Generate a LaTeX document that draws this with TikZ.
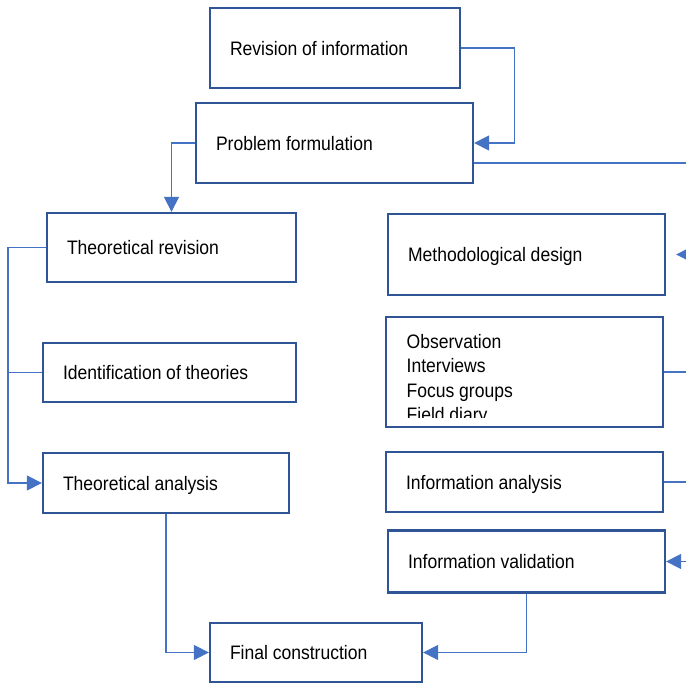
\documentclass[tikz,border=0pt]{standalone}
\usepackage{fontspec}
\setmainfont[FakeStretch=0.9,WordSpace=0.97]{Liberation Sans}
\usetikzlibrary{arrows.meta,calc}
\definecolor{boxblue}{HTML}{2F5597}
\definecolor{lineblue}{HTML}{4472C4}
\begin{document}
\begin{tikzpicture}[x=1pt,y=1pt,
  box/.style={draw=boxblue, line width=2.3pt, inner xsep=20pt, inner ysep=0pt,
    align=flush left, text height=15pt, text depth=0pt, font=\fontsize{19.5}{24}\selectfont},
  conn/.style={draw=lineblue, line width=1.3pt},
  arr/.style={conn, -{Triangle[length=15pt,width=15pt]}}]
\useasboundingbox (0,0) rectangle (686,683);
\clip (0,0) rectangle (686,683);
% boxes
\node[box, text width=210pt, minimum height=80pt] (rev)   at (335,635)   {Revision of information};
\node[box, text width=237pt, minimum height=80pt] (prob)  at (334.5,540) {Problem formulation};
\node[box, text width=209pt, minimum height=69pt] (trev)  at (171.5,435.5) {Theoretical revision};
\node[box, text width=213pt, minimum height=59pt] (iden)  at (169.5,310.5) {Identification of theories};
\node[box, text width=206pt, minimum height=60pt] (tana)  at (166,200)   {Theoretical analysis};
\node[box, text width=172pt, minimum height=59pt] (fin)   at (316,30.5)  {Final construction};
\node[box, text width=237pt, minimum height=81pt] (meth)  at (526.5,428.5) {Methodological design};
\node[box, text width=237pt, minimum height=110pt] (obs)  at (524.5,311) {};
\node[box, text width=237pt, minimum height=60pt] (ianal) at (524.5,201) {Information analysis};
\node[box, text width=237pt, minimum height=62pt] (ival)  at (526.5,121.5) {Information validation};
\begin{scope}
  \clip (obs.north west) rectangle ($(obs.south east)+(0,10.5)$);
  \node[anchor=base west, inner sep=0pt, font=\fontsize{19.5}{24.3}\selectfont] (obstext) at (406.5,334.5)
    {\begin{tabular}[t]{@{}l@{}}Observation\\Interviews\\Focus groups\\Field diary\end{tabular}};
\end{scope}
% helper coordinates
\coordinate (lx) at (8,0);
\coordinate (rx) at (700,0);
\coordinate (pOut) at (700,520);
\coordinate (mIn) at (700,428.5);
\coordinate (vIn) at (700,121.5);
% connectors
\draw[arr] (rev.east) -- ++(53,0) |- (prob.east);
\draw[conn] (prob.east |- pOut) -- (pOut);
\draw[arr] (prob.west) -| (trev.north);
\draw[arr] (trev.west) -- (trev.west -| lx) |- (tana.west);
\draw[conn] (iden.west) -- (iden.west -| lx);
\draw[arr] (tana.south) |- (fin.west);
\draw[arr] (mIn) -- ($(meth.east)+(10,0)$);
\draw[conn] (obs.east) -- (obs.east -| rx);
\draw[conn] (ianal.east) -- (ianal.east -| rx);
\draw[arr] (vIn) -- (ival.east);
\draw[arr] (ival.south) |- (fin.east);
\end{tikzpicture}
\end{document}
